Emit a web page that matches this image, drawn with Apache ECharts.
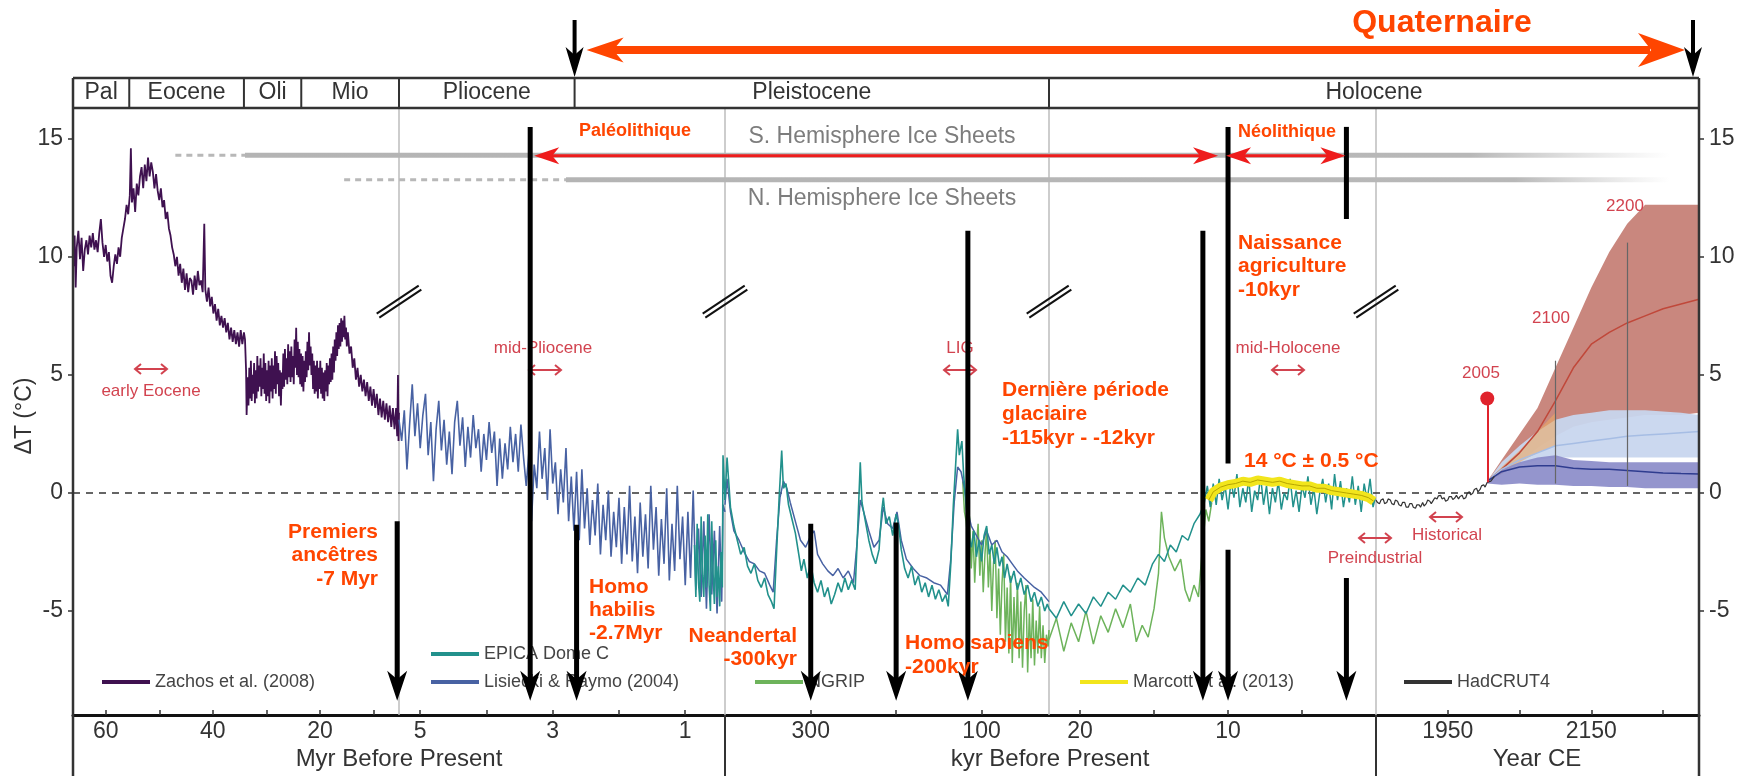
<!DOCTYPE html>
<html><head><meta charset="utf-8">
<script src="https://cdn.jsdelivr.net/npm/echarts@6/dist/echarts.min.js"></script>
<style>html,body{margin:0;padding:0;background:#fff}#c{width:1746px;height:776px}</style>
</head><body><div id="c"></div>
<script>
// ---------------- DATA ----------------
// Zachos et al. (2008): [Myr before present, ΔT]
const zachos = [[66.0,9.6],[65.8,10.9],[65.6,8.7],[65.4,10.4],[65.1,11.1],[64.8,9.9],[64.5,10.8],[64.2,9.4],[63.9,10.3],[63.6,10.7],[63.3,10.1],[63.0,10.9],[62.7,10.4],[62.4,11.0],[62.1,10.3],[61.8,10.7],[61.5,10.2],[61.2,11.0],[60.9,11.6],[60.6,10.6],[60.3,10.0],[60.0,10.5],[59.7,9.8],[59.4,10.2],[59.1,9.2],[58.8,8.9],[58.5,9.6],[58.2,10.1],[57.9,9.7],[57.6,10.4],[57.3,10.0],[57.0,10.8],[56.7,11.2],[56.4,11.6],[56.1,12.2],[55.8,11.8],[55.5,12.6],[55.3,14.6],[55.1,12.3],[54.8,12.9],[54.5,11.9],[54.2,13.1],[53.9,12.6],[53.6,13.4],[53.3,13.8],[53.0,12.9],[52.7,13.9],[52.4,13.2],[52.1,14.2],[51.8,13.4],[51.5,14.0],[51.2,13.6],[50.9,12.9],[50.6,13.5],[50.3,12.8],[50.0,12.4],[49.7,12.9],[49.4,12.1],[49.1,12.4],[48.8,11.6],[48.5,11.9],[48.2,11.2],[47.9,10.9],[47.6,10.4],[47.3,10.1],[47.0,9.6],[46.7,10.0],[46.4,9.2],[46.1,9.7],[45.8,8.9],[45.5,9.5],[45.2,8.6],[44.9,9.3],[44.6,8.5],[44.3,9.1],[44.0,9.0],[43.7,8.4],[43.4,9.2],[43.1,8.6],[42.8,9.4],[42.5,8.8],[42.2,9.0],[41.9,8.5],[41.6,11.4],[41.4,8.6],[41.1,8.1],[40.8,8.7],[40.5,7.9],[40.2,8.3],[39.9,7.6],[39.6,8.0],[39.3,7.3],[39.0,7.8],[38.7,7.1],[38.4,7.5],[38.1,7.0],[37.8,7.4],[37.5,6.8],[37.2,7.2],[36.9,6.5],[36.6,7.0],[36.3,6.4],[36.0,6.9],[35.7,6.3],[35.4,6.8],[35.1,6.2],[34.8,6.9],[34.5,6.3],[34.2,6.8],[34.0,6.5],[33.8,5.2],[33.7,3.3],[33.5,4.9],[33.35,3.7],[33.2,5.3],[33.05,4.0],[32.9,5.6],[32.75,3.9],[32.6,5.0],[32.45,4.2],[32.3,5.5],[32.15,3.8],[32.0,5.2],[31.85,4.0],[31.7,5.8],[31.55,4.3],[31.4,5.4],[31.25,4.5],[31.1,5.7],[30.95,4.1],[30.8,5.3],[30.65,4.4],[30.5,5.9],[30.35,4.2],[30.2,5.5],[30.05,3.9],[29.9,5.2],[29.75,4.1],[29.6,5.6],[29.45,3.8],[29.3,5.4],[29.15,4.3],[29.0,5.7],[28.85,4.0],[28.7,5.4],[28.55,4.4],[28.4,6.0],[28.25,4.2],[28.1,5.8],[27.95,4.6],[27.8,5.5],[27.65,4.1],[27.5,5.2],[27.3,3.7],[27.15,5.1],[27.0,4.4],[26.85,5.9],[26.7,4.5],[26.55,6.1],[26.4,4.8],[26.25,5.7],[26.1,4.6],[25.95,6.3],[25.8,4.9],[25.65,6.0],[25.5,4.7],[25.35,6.2],[25.2,4.9],[25.05,5.8],[24.9,4.6],[24.75,6.5],[24.6,5.3],[24.45,7.0],[24.3,5.0],[24.15,6.4],[24.0,4.9],[23.85,6.1],[23.7,4.6],[23.55,5.9],[23.4,4.5],[23.25,5.8],[23.1,4.3],[22.95,5.6],[22.8,4.7],[22.65,6.0],[22.5,4.9],[22.35,6.4],[22.2,5.2],[22.05,6.8],[21.9,5.4],[21.75,6.2],[21.6,5.0],[21.45,5.9],[21.3,4.4],[21.15,5.6],[21.0,4.2],[20.85,5.4],[20.7,4.3],[20.55,5.6],[20.4,4.0],[20.25,5.3],[20.1,4.4],[19.95,5.6],[19.8,4.2],[19.65,5.3],[19.5,4.0],[19.35,5.1],[19.2,3.9],[19.05,5.2],[18.9,4.3],[18.75,5.5],[18.6,4.1],[18.45,5.4],[18.3,4.6],[18.15,5.7],[18.0,4.7],[17.85,5.9],[17.7,4.8],[17.55,6.2],[17.4,5.1],[17.25,6.5],[17.1,5.6],[16.95,6.8],[16.8,5.8],[16.65,7.1],[16.5,6.1],[16.35,7.2],[16.2,6.2],[16.05,7.4],[15.9,6.4],[15.75,7.3],[15.6,6.6],[15.45,7.5],[15.3,6.5],[15.15,7.0],[15.0,6.2],[14.8,6.8],[14.5,5.9],[14.2,6.2],[13.9,5.3],[13.6,5.7],[13.3,4.8],[13.0,5.3],[12.7,4.5],[12.4,5.0],[12.1,4.3],[11.8,4.8],[11.5,4.1],[11.2,4.7],[10.9,3.9],[10.6,4.5],[10.3,3.7],[10.0,4.4],[9.7,3.6],[9.4,4.2],[9.1,3.3],[8.8,4.0],[8.5,3.2],[8.2,3.9],[7.9,3.1],[7.6,3.8],[7.3,3.0],[7.0,3.7],[6.7,2.8],[6.4,3.6],[6.1,2.7],[5.8,3.6],[5.6,2.4],[5.45,5.0],[5.35,2.2],[5.26,3.4]];

// Lisiecki & Raymo (2004), Myr part: [Myr BP, ΔT]
const lr04Myr = [[5.32,3.1],[5.28,2.2],[5.24,3.5],[5.2,1.0],[5.16,2.9],[5.12,4.6],[5.08,2.4],[5.04,3.8],[5.0,1.9],[4.96,3.3],[4.92,4.2],[4.88,1.6],[4.84,3.0],[4.8,0.5],[4.76,2.7],[4.72,3.9],[4.68,1.8],[4.64,3.1],[4.6,1.2],[4.56,2.6],[4.52,0.8],[4.48,3.0],[4.44,3.9],[4.4,2.0],[4.36,3.2],[4.32,1.1],[4.28,2.8],[4.24,1.5],[4.2,3.3],[4.16,1.9],[4.12,2.7],[4.08,0.9],[4.04,2.5],[4.0,1.4],[3.96,3.0],[3.92,1.7],[3.88,2.6],[3.84,0.3],[3.8,2.3],[3.76,0.6],[3.72,2.1],[3.68,1.0],[3.64,2.8],[3.6,1.3],[3.56,2.5],[3.52,0.9],[3.48,2.9],[3.44,1.5],[3.4,0.3],[3.36,1.7],[3.32,-1.2],[3.28,1.2],[3.24,0.2],[3.2,2.6],[3.16,0.6],[3.12,1.9],[3.08,-0.3],[3.04,2.7],[3.0,0.4],[2.96,1.3],[2.92,-0.9],[2.88,1.0],[2.84,-0.4],[2.8,1.9],[2.76,-1.2],[2.72,0.7],[2.68,-1.6],[2.64,0.9],[2.6,-2.0],[2.56,1.0],[2.52,-1.5],[2.48,0.2],[2.44,-2.2],[2.4,-0.3],[2.36,-1.8],[2.32,0.4],[2.28,-2.6],[2.24,-0.5],[2.2,-2.0],[2.16,0.1],[2.12,-2.7],[2.08,-0.8],[2.04,-2.3],[2.0,-0.2],[1.96,-3.0],[1.92,-0.6],[1.88,-2.6],[1.84,0.3],[1.8,-2.9],[1.76,-1.0],[1.72,-3.4],[1.68,-0.4],[1.64,-2.7],[1.6,-0.9],[1.56,-3.2],[1.52,0.3],[1.48,-2.4],[1.44,-0.6],[1.4,-3.5],[1.36,-1.1],[1.32,-3.0],[1.28,0.2],[1.24,-3.7],[1.2,-1.3],[1.16,-3.3],[1.12,0.3],[1.08,-2.8],[1.04,-1.0],[1.0,-3.9],[0.96,-0.8],[0.92,-3.6],[0.88,0.1],[0.84,-4.1],[0.8,-1.5],[0.76,-4.4],[0.72,-1.2],[0.68,-4.9],[0.64,-0.9],[0.6,-4.3],[0.56,-1.6],[0.52,-5.1],[0.48,-1.4],[0.45,-4.6],[0.43,-0.5],[0.4,-0.8]];
// EPICA Dome C, Myr part
const epicaMyr = [[0.86,-2.2],[0.84,-4.4],[0.82,-1.3],[0.8,-3.8],[0.78,-4.6],[0.76,-1.0],[0.74,-3.5],[0.72,-4.4],[0.7,-1.8],[0.68,-4.0],[0.66,-0.9],[0.64,-3.9],[0.62,-5.0],[0.6,-1.2],[0.58,-3.4],[0.56,-4.7],[0.54,-2.0],[0.52,-4.4],[0.5,-3.1],[0.48,-4.8],[0.46,-2.5],[0.44,-4.0],[0.43,1.6],[0.4,-0.3]];
// kyr part (400 -> 21 kyr BP)
const epicaKyr = [[400.4,-0.3],[398,1.5],[394,-0.6],[390,-1.4],[386,-2.0],[382,-2.6],[378,-2.3],[374,-3.1],[370,-3.4],[366,-3.0],[362,-3.7],[358,-4.0],[354,-3.6],[350,-4.3],[346,-4.6],[343,-4.9],[340,-2.5],[337,-0.2],[334,1.8],[332,0.2],[329,0.4],[326,-0.5],[322,-1.1],[318,-1.7],[314,-2.6],[311,-3.3],[308,-2.8],[304,-3.6],[300,-3.0],[296,-3.8],[292,-4.2],[288,-3.7],[284,-4.4],[280,-4.0],[276,-4.7],[272,-4.3],[268,-3.8],[264,-4.2],[260,-3.6],[256,-4.1],[252,-3.7],[248,-4.1],[245,-1.5],[242,1.3],[240,-0.4],[236,-1.2],[232,-2.0],[228,-2.6],[224,-3.0],[220,-2.4],[217,-0.8],[215,-0.2],[212,-1.3],[208,-1.0],[204,-1.8],[200,-0.9],[197,-1.4],[194,-2.4],[190,-3.2],[186,-3.6],[182,-3.1],[178,-3.9],[174,-3.5],[170,-4.2],[166,-3.8],[162,-4.4],[158,-3.9],[154,-4.5],[150,-4.1],[146,-4.6],[142,-4.3],[139,-4.8],[136,-3.0],[133,-0.5],[130,1.4],[128,2.7],[126,1.6],[123,2.2],[121,0.8],[118,-0.6],[115,-1.8],[112,-2.3],[109,-1.6],[106,-2.7],[103,-2.0],[100,-2.9],[97,-1.8],[94,-1.4],[91,-2.6],[88,-2.2],[85,-3.0],[82,-2.3],[79,-3.1],[76,-2.7],[73,-3.6],[70,-3.0],[66,-3.8],[62,-3.3],[58,-4.1],[54,-3.6],[50,-4.3],[46,-3.9],[42,-4.6],[38,-4.2],[34,-4.8],[30,-4.4],[26,-5.0],[23,-4.7],[21,-4.9]];
const lr04Kyr = [[400.4,-0.5],[398,0.6],[394,-0.8],[390,-1.6],[384,-2.0],[378,-2.5],[372,-2.9],[366,-3.0],[360,-3.3],[354,-3.4],[348,-3.9],[344,-4.2],[340,-2.0],[336,-0.2],[332,0.5],[328,0.2],[324,-0.4],[318,-1.2],[312,-2.0],[306,-2.3],[300,-1.8],[296,-1.6],[292,-2.6],[286,-3.0],[280,-3.3],[274,-3.5],[268,-3.2],[262,-3.6],[256,-3.3],[250,-3.8],[246,-2.2],[242,-0.3],[238,-0.8],[232,-1.6],[226,-2.3],[220,-2.0],[215,-0.6],[210,-1.3],[204,-1.5],[199,-0.8],[194,-2.0],[188,-2.8],[180,-3.2],[172,-3.5],[164,-3.6],[156,-3.8],[148,-3.9],[140,-4.3],[136,-2.8],[132,-0.4],[128,1.1],[124,0.9],[120,0.2],[116,-0.8],[112,-1.4],[106,-1.8],[100,-2.2],[94,-1.6],[88,-2.2],[82,-2.0],[76,-2.5],[70,-2.7],[64,-3.0],[58,-3.3],[50,-3.6],[44,-3.8],[38,-4.0],[30,-4.2],[21,-4.6]];
const ngripKyr = [[122,0.5],[120,-0.8],[118,-1.2],[116,-2.0],[114,-1.0],[112,-3.2],[110,-1.6],[108,-3.8],[106,-2.2],[104,-1.3],[102,-3.5],[100,-2.0],[98,-4.2],[96,-2.6],[94,-1.5],[92,-4.0],[90,-2.4],[88,-5.0],[86,-3.0],[84,-2.0],[82,-5.3],[80,-3.2],[78,-6.0],[76,-3.8],[74,-2.6],[72,-6.3],[70,-4.0],[68,-6.8],[66,-3.5],[64,-7.2],[62,-4.4],[60,-6.5],[58,-3.8],[56,-7.0],[54,-4.6],[52,-7.4],[50,-5.0],[48,-3.9],[46,-7.6],[44,-5.1],[42,-7.0],[40,-4.5],[38,-7.3],[36,-5.4],[34,-6.8],[32,-4.8],[30,-7.0],[28,-5.6],[26,-7.2],[24,-6.0],[22,-6.5],[21,-5.8]];
// Holocene part (22 -> 0 kyr BP)
const epicaHolo = [[22.1,-4.9],[21.6,-5.3],[21.1,-4.6],[20.6,-5.2],[20.1,-4.7],[19.6,-5.1],[19.1,-4.4],[18.6,-4.8],[18.1,-4.2],[17.6,-4.5],[17.1,-3.9],[16.6,-4.2],[16.1,-3.6],[15.6,-3.9],[15.1,-3.0],[14.7,-2.6],[14.3,-2.9],[13.9,-2.2],[13.5,-2.5],[13.1,-1.8],[12.7,-2.0],[12.3,-1.3],[11.9,-0.9],[11.6,-0.4],[11.4,0.3],[11.2,-0.6],[11.0,0.4],[10.8,-0.5],[10.6,0.6],[10.4,-0.3],[10.2,0.3],[10.0,-0.7],[9.8,0.5],[9.6,-0.2],[9.4,0.8],[9.2,-0.6],[9.0,0.2],[8.8,-0.4],[8.6,0.6],[8.4,-0.8],[8.2,0.1],[8.0,-0.3],[7.8,0.7],[7.6,-0.5],[7.4,0.3],[7.2,-0.9],[7.0,0.2],[6.8,-0.4],[6.6,0.5],[6.4,-0.7],[6.2,0.0],[6.0,-0.3],[5.8,0.6],[5.6,-0.6],[5.4,0.1],[5.2,-0.8],[5.0,0.3],[4.8,-0.2],[4.6,0.7],[4.4,-0.5],[4.2,0.2],[4.0,-0.9],[3.8,0.0],[3.6,0.6],[3.4,-0.4],[3.2,0.4],[3.0,-0.7],[2.8,0.8],[2.6,-0.3],[2.4,0.5],[2.2,-0.6],[2.0,0.2],[1.8,-0.4],[1.6,0.7],[1.4,-0.5],[1.2,0.3],[1.0,-0.8],[0.8,0.4],[0.6,-0.3],[0.4,0.6],[0.2,-0.6],[0.05,-0.2]];
const ngripHolo = [[22.1,-6.2],[21.6,-5.3],[21.1,-6.7],[20.6,-5.5],[20.1,-6.3],[19.6,-5.0],[19.1,-6.4],[18.6,-5.2],[18.1,-5.9],[17.6,-4.9],[17.1,-5.7],[16.6,-4.7],[16.2,-6.3],[15.8,-5.6],[15.4,-6.1],[15.0,-4.9],[14.7,-3.4],[14.5,-0.8],[14.3,-1.9],[14.0,-2.7],[13.6,-3.3],[13.2,-2.8],[12.9,-4.1],[12.6,-4.6],[12.3,-3.9],[12.0,-4.4],[11.7,-2.1],[11.5,-0.7],[11.3,-1.2],[11.1,-0.4]];
const marcott = [[11.3,-0.3],[11.0,0.05],[10.5,0.25],[10.0,0.35],[9.5,0.4],[9.0,0.5],[8.5,0.45],[8.0,0.55],[7.5,0.5],[7.0,0.45],[6.5,0.5],[6.0,0.4],[5.5,0.35],[5.0,0.3],[4.5,0.3],[4.0,0.2],[3.5,0.2],[3.0,0.1],[2.5,0.05],[2.0,0.0],[1.5,-0.05],[1.0,-0.1],[0.5,-0.2],[0.15,-0.35]];
// HadCRUT4: [year CE, ΔT]
const hadcrut4 = [[1850,-0.3],[1852,-0.4],[1855,-0.45],[1857,-0.3],[1860,-0.25],[1862,-0.45],[1865,-0.4],[1867,-0.25],[1870,-0.3],[1872,-0.45],[1875,-0.5],[1877,-0.3],[1880,-0.35],[1882,-0.5],[1885,-0.55],[1887,-0.4],[1890,-0.4],[1892,-0.6],[1895,-0.6],[1897,-0.45],[1900,-0.45],[1902,-0.6],[1905,-0.65],[1907,-0.5],[1910,-0.5],[1912,-0.6],[1915,-0.4],[1917,-0.55],[1920,-0.45],[1922,-0.3],[1925,-0.35],[1927,-0.45],[1930,-0.3],[1932,-0.2],[1935,-0.25],[1937,-0.12],[1940,-0.1],[1942,-0.25],[1945,-0.2],[1947,-0.35],[1950,-0.3],[1952,-0.15],[1955,-0.15],[1957,-0.28],[1960,-0.2],[1962,-0.1],[1965,-0.25],[1967,-0.15],[1970,-0.1],[1972,-0.25],[1975,-0.2],[1977,-0.02],[1980,0.05],[1982,-0.08],[1985,0.0],[1987,0.15],[1990,0.2],[1992,0.05],[1995,0.15],[1997,0.3],[2000,0.35],[2002,0.25],[2005,0.45],[2007,0.38],[2010,0.5],[2012,0.42],[2015,0.7]];
// Projections
const projYears = [2005,2025,2050,2075,2100,2125,2150,2175,2200,2225,2250,2275,2300];
const rcp85Hi  = [0.5,1.4,2.5,3.6,5.3,7.0,8.7,10.2,11.4,12.2,12.2,12.2,12.2];
const rcp85Lo  = [0.5,0.8,1.3,1.9,2.4,2.8,3.0,3.1,3.2,3.3,3.3,3.3,3.4];
const rcp85Mid = [0.5,1.0,1.7,2.6,3.9,5.3,6.3,6.8,7.2,7.5,7.8,8.0,8.2];
const rcp45Hi  = [0.5,1.3,2.0,2.6,3.1,3.3,3.4,3.5,3.5,3.5,3.45,3.4,3.3];
const rcp45Lo  = [0.5,0.9,1.2,1.4,1.5,1.5,1.5,1.5,1.5,1.5,1.5,1.5,1.5];
const rcp45Mid = [0.5,1.0,1.4,1.7,2.0,2.1,2.2,2.3,2.4,2.45,2.5,2.55,2.6];
const rcp26Hi  = [0.5,1.0,1.3,1.5,1.6,1.4,1.35,1.3,1.3,1.3,1.3,1.3,1.3];
const rcp26Lo  = [0.4,0.35,0.4,0.35,0.35,0.3,0.3,0.25,0.25,0.2,0.2,0.2,0.2];
const rcp26Mid = [0.5,0.9,1.1,1.15,1.15,1.05,1.0,1.0,0.95,0.9,0.85,0.82,0.8];
const rcp60Years = [2005,2025,2050,2075,2100];
const rcp60Hi = [0.5,1.1,1.8,2.6,3.4];
const rcp60Lo = [0.5,0.8,1.3,1.7,2.0];
// Axes ticks / labels
const xTicks  = [[60,50,40,30,20,10],[5,4,3,2,1],[300,200,100],[20,15,10,5],[1950,2050,2150,2250]];
const xLabels = [[60,40,20],[5,3,1],[300,100],[20,10],[1950,2150]];
const xRanges = [[5.26,66.1],[0.40,5.32],[21,400.4],[0,22.1],[1850,2300]];
const yTicks = [-5,0,5,10,15];
const epochNames = ['Pal','Eocene','Oli','Mio','Pliocene','Pleistocene','Holocene'];
const epochBounds = [[0,66.1],[0,55.6],[0,34.2],[0,23.5],[1,5.32],[1,2.67],[3,22.1],[4,2300]];
// events: [segment, time, top ΔT, arrow tip ΔT]
const events = [[0,5.6,-1.2,-8.8],[1,3.34,15.5,-8.8],[1,2.64,-1.35,-8.8],[2,300,-1.3,-8.8],[2,200,-1.25,-8.8],[2,116,11.1,-8.8],[3,11.7,11.1,-8.8],[3,10,-2.4,-8.8],[3,2.0,-3.6,-8.8]];
const eventBars = [[3,10,15.5,1.25],[3,2.0,15.5,11.6]];

// ---------------- CHART ----------------
const FONT = '"Liberation Sans", Arial, Helvetica, sans-serif';
const segLeft = [73,399,725,1049,1376], segWidth = [326,326,324,327,323];
const chart = echarts.init(document.getElementById('c'), null, {renderer:'canvas', width:1746, height:776});

const grids = segLeft.map((l,i)=>({left:l, width:segWidth[i], top:108, height:607, containLabel:false, outerBoundsMode:'none'}));
const xAxes = xRanges.map((r,i)=>({type:'value', gridIndex:i, min:r[0], max:r[1], inverse: i!==4,
  axisLine:{show:true, onZero:false, lineStyle:{color:'#111', width:3}},
  axisTick:{show:true, inside:true, length:5, customValues:xTicks[i], lineStyle:{color:'#333', width:1.5}},
  axisLabel:{show:true, customValues:xLabels[i], margin:5, fontSize:23, color:'#333', fontFamily:FONT, formatter:v=>String(v)},
  splitLine:{show:false}}));
const yAxes = [0,1,2,3,4].map(i=>({type:'value', gridIndex:i, min:-9.4, max:16.3, position: i===4?'right':'left', show: i===0||i===4,
  axisLine:{show:false}, axisTick:{show:true, length:5, customValues:yTicks, lineStyle:{color:'#333', width:1.5}},
  axisLabel:{show:true, customValues:yTicks, margin:10, fontSize:23, color:'#333', fontFamily:FONT, formatter:v=>String(v)},
  splitLine:{show:false}}));

function lineS(name, data, g, color, w, z){
  return {type:'line', name:name, data:data, xAxisIndex:g, yAxisIndex:g, showSymbol:false, symbol:'none', color:color,
    lineStyle:{color:color, width:w||1.3}, z:z||2, silent:true, animation:false};
}
function band(years, lo, hi, fill, z){
  return {type:'custom', xAxisIndex:4, yAxisIndex:4, silent:true, z:z, data:[[years[0], lo[0]]], encode:{x:0,y:1},
    renderItem:function(params, api){
      const pts=[];
      for(let i=0;i<years.length;i++) pts.push(api.coord([years[i],hi[i]]));
      for(let i=years.length-1;i>=0;i--) pts.push(api.coord([years[i],lo[i]]));
      return {type:'polygon', shape:{points:pts}, style:{fill:fill}};
    }};
}
const zip = (xs, ys)=>xs.map((x,i)=>[x,ys[i]]);

const series = [
  lineS('Zachos et al. (2008)', zachos, 0, '#3f1150', 1.8),
  lineS('Lisiecki & Raymo (2004)', lr04Myr, 1, '#4862a3', 1.6),
  lineS('EPICA Dome C', epicaMyr, 1, '#22918c', 1.6, 3),
  lineS('NGRIP', ngripKyr, 2, '#6db35b', 1.5),
  lineS('Lisiecki & Raymo (2004)', lr04Kyr, 2, '#4862a3', 1.5, 3),
  lineS('EPICA Dome C', epicaKyr, 2, '#22918c', 1.6, 4),
  lineS('NGRIP', ngripHolo, 3, '#6db35b', 1.5),
  lineS('EPICA Dome C', epicaHolo, 3, '#22918c', 1.5, 3),
  lineS('Marcott et al. (2013)', marcott, 3, '#f2e51c', 9, 4),
  lineS('', marcott, 3, '#b6a500', 1, 5),
  band(projYears, rcp85Lo, rcp85Hi, 'rgba(193,118,108,0.88)', 1),
  band(projYears, rcp45Lo, rcp45Hi, 'rgba(200,214,238,0.95)', 1),
  band(rcp60Years, rcp60Lo, rcp60Hi, 'rgba(236,170,100,0.6)', 1),
  band(projYears, rcp26Lo, rcp26Hi, 'rgba(136,138,200,0.9)', 1),
  Object.assign(lineS('', zip(projYears, rcp85Mid), 4, '#c0483a', 1.5, 3), {markLine:{silent:true, symbol:['none','none'], animation:false, label:{show:false},
     lineStyle:{color:'#666', width:1.2, type:'solid'},
     data:[[{coord:[2100,0.4]},{coord:[2100,5.6]}],[{coord:[2200,0.3]},{coord:[2200,10.6]}]]}}),
  lineS('', zip(projYears, rcp45Mid), 4, '#a6bde4', 1.5, 3),
  lineS('', zip(projYears, rcp26Mid), 4, '#2f3c8f', 1.5, 3),
  Object.assign(lineS('HadCRUT4', hadcrut4, 4, '#333333', 1.2, 4), {markLine:{silent:true, symbol:['none','circle'], symbolSize:[14,14], animation:false, label:{show:false},
     lineStyle:{color:'#e0232c', width:2, type:'solid'}, itemStyle:{color:'#e0232c'},
     data:[[{coord:[2005,0.45]},{coord:[2005,4.0]}]]}})
];

const legendItems = [['Zachos et al. (2008)',102,672],['EPICA Dome C',431,644],['Lisiecki & Raymo (2004)',431,672],['NGRIP',755,672],['Marcott et al. (2013)',1080,672],['HadCRUT4',1404,672]];
const legends = legendItems.map(it=>({data:[it[0]], left:it[1], top:it[2], itemWidth:48, itemHeight:4, icon:'rect', selectedMode:false, padding:0,
  textStyle:{fontSize:18, color:'#444', fontFamily:FONT, lineHeight:20}}));

chart.setOption({animation:false, backgroundColor:'#fff', grid:grids, xAxis:xAxes, yAxis:yAxes, series:series, legend:legends});

// ---------------- ANNOTATIONS ----------------
const px = (g,x,y)=>chart.convertToPixel({gridIndex:g},[x,y]);
const G = [];
function L(x1,y1,x2,y2,stroke,w,z,dash){G.push({type:'line', silent:true, z:z||50, shape:{x1:x1,y1:y1,x2:x2,y2:y2}, style:{stroke:stroke, lineWidth:w, lineDash:dash||null}});}
function Poly(pts,fill,z){G.push({type:'polygon', silent:true, z:z||100, shape:{points:pts}, style:{fill:fill}});}
function PL(pts,stroke,w,z){G.push({type:'polyline', silent:true, z:z||20, shape:{points:pts}, style:{stroke:stroke, lineWidth:w, fill:null}});}
function T(x,y,text,o){o=o||{}; G.push({type:'text', silent:true, z:o.z||100, x:x, y:y, rotation:o.rot||0,
  style:{text:text, fill:o.color||'#333', fontSize:o.size||22, fontWeight:o.weight||'normal', fontFamily:FONT, textAlign:o.align||'center', textVerticalAlign:'middle'}});}
function DA(cx,cy,c){const h=16,a=6; L(cx-h,cy,cx+h,cy,c,2,20); PL([[cx-h+a,cy-5],[cx-h,cy],[cx-h+a,cy+5]],c,2); PL([[cx+h-a,cy-5],[cx+h,cy],[cx+h-a,cy+5]],c,2);}
function downArrow(x,yTop,yTip,w,h){w=w||20;h=h||30; L(x,yTop,x,yTip-h*0.6,'#000',5,100); Poly([[x,yTip],[x-w/2,yTip-h],[x,yTip-h*0.72],[x+w/2,yTip-h]],'#000',101);}
function hHead(xt,y,dir,len,ht,c){Poly([[xt,y],[xt-dir*len,y-ht/2],[xt-dir*len*0.72,y],[xt-dir*len,y+ht/2]],c,101);}

const yPx = v=>px(0,10,v)[1];
const ex = epochBounds.map(b=>px(b[0],b[1],0)[0]);
const FL = ex[0], FR = ex[ex.length-1], FT = 78, FH = 108, FA = 715, FB = 776;

// frame and header
L(FL,FT,FR,FT,'#333',2.5,30); L(FL,FH,FR,FH,'#333',2.5,30);
L(FL,FT,FL,FB,'#333',2.5,30); L(FR,FT,FR,FB,'#333',2.5,30);
for(let i=1;i<ex.length-1;i++) L(ex[i],FT,ex[i],FH,'#333',2,30);
epochNames.forEach((n,i)=>T((ex[i]+ex[i+1])/2, 93, n, {size:23, color:'#333', z:30}));
// segment separators
const sepX = segLeft.slice(1);
sepX.forEach(x=>L(x,FH,x,FA,'#bdbdbd',1.5,1));
[segLeft[2], segLeft[4]].forEach(x=>L(x,FA,x,FB,'#333',2,30));
// zero line
L(FL,yPx(0),FR,yPx(0),'#333',1.5,1,[7,6]);
// break marks
sepX.forEach(x=>{const y=yPx(8.1); [-2.4,2.4].forEach(o=>L(x-21+o*0.55,y+14+o*0.83,x+21+o*0.55,y-14+o*0.83,'#111',2,25));});

// ice sheets
const ice = [['S. Hemisphere Ice Sheets',14.3,[0,47.0],[0,34.0],[4,2259],137],['N. Hemisphere Ice Sheets',13.26,[0,15.5],[1,2.8],[4,2259],199]];
ice.forEach(s=>{
  const y = yPx(s[1]);
  const xd = px(s[2][0],s[2][1],0)[0], xs = px(s[3][0],s[3][1],0)[0], xe = px(s[4][0],s[4][1],0)[0];
  L(xd,y,xs,y,'#b8b8b8',3,5,[6,5]);
  G.push({type:'rect', silent:true, z:5, shape:{x:xs,y:y-2.5,width:xe-xs,height:5},
    style:{fill:new echarts.graphic.LinearGradient(0,0,1,0,[{offset:0,color:'#b4b4b4'},{offset:0.86,color:'#b8b8b8'},{offset:1,color:'rgba(200,200,200,0)'}])}});
  T(882, s[5], s[0], {size:23, color:'#7d7d7d', z:6});
});

// original figure annotations (red)
const RC = '#d2434f';
T(151,391,'early Eocene',{size:17,color:RC,z:20}); DA(151,369,RC);
T(543,348,'mid-Pliocene',{size:17,color:RC,z:20}); DA(545,370,RC);
T(960,348,'LIG',{size:17,color:RC,z:20}); DA(960,370,RC);
T(1288,348,'mid-Holocene',{size:17,color:RC,z:20}); DA(1288,370,RC);
T(1375,558,'Preindustrial',{size:17,color:RC,z:20}); DA(1375,538,RC);
T(1447,535,'Historical',{size:17,color:RC,z:20}); DA(1446,517,RC);
T(1481,373,'2005',{size:17,color:RC,z:20});
T(1551,318,'2100',{size:17,color:RC,z:20});
T(1625,206,'2200',{size:17,color:RC,z:20});

// axis names
T(399,759,'Myr Before Present',{size:24,z:30});
T(1050,759,'kyr Before Present',{size:24,z:30});
T(1537,759,'Year CE',{size:24,z:30});
T(25,416,'ΔT (°C)',{size:23,rot:Math.PI/2,z:30});

// black event arrows
const evX = events.map(e=>px(e[0],e[1],0)[0]);
events.forEach((e,i)=>downArrow(evX[i], yPx(e[2]), yPx(e[3])));
eventBars.forEach(b=>{const x=px(b[0],b[1],0)[0]; L(x,yPx(b[2]),x,yPx(b[3]),'#000',5,100);});

// Paléolithique / Néolithique red arrows
const RR = '#ee1c1c', yP = yPx(14.28);
const xPa = evX[1]+4, xPb = px(3,10,0)[0]-10, xNa = px(3,10,0)[0]-2, xNb = evX[8]-1;
L(xPa+15,yP,xPb-15,yP,RR,3,100); hHead(xPa,yP,-1,25,17,RR); hHead(xPb,yP,1,25,17,RR);
L(xNa+15,yP,xNb-15,yP,RR,3,100); hHead(xNa,yP,-1,25,17,RR); hHead(xNb,yP,1,25,17,RR);

// Quaternaire arrow on top
const OR = '#ff4500';
const xQa = ex[5]+12, xQb = FR-14;
L(xQa+25,50,xQb-35,50,OR,8,100); hHead(xQa,50,-1,37,25,OR); hHead(xQb,50,1,47,34,OR);
T(1442,23,'Quaternaire',{size:32,weight:'bold',color:OR});
// black boundary arrows at top
[ex[5], FR-6].forEach(x=>{L(x,20,x,58,'#000',4,100); Poly([[x,77],[x-9,47],[x,55],[x+9,47]],'#000',101);});

// bold orange-red labels
const B = {size:21, weight:'bold', color:OR};
T(635,131,'Paléolithique',{size:18,weight:'bold',color:OR});
T(1287,132,'Néolithique',{size:18,weight:'bold',color:OR});
['Premiers','ancêtres','-7 Myr'].forEach((s,i)=>T(378,532+i*23.5,s,Object.assign({align:'right'},B)));
['Homo','habilis','-2.7Myr'].forEach((s,i)=>T(589,587+i*23,s,Object.assign({align:'left'},B)));
['Neandertal','-300kyr'].forEach((s,i)=>T(797,636+i*23,s,Object.assign({align:'right'},B)));
['Homo sapiens','-200kyr'].forEach((s,i)=>T(905,643+i*24,s,Object.assign({align:'left'},B)));
['Dernière période','glaciaire','-115kyr - -12kyr'].forEach((s,i)=>T(1002,390+i*24,s,Object.assign({align:'left'},B)));
['Naissance','agriculture','-10kyr'].forEach((s,i)=>T(1238,243+i*23.5,s,Object.assign({align:'left'},B)));
T(1244,461,'14 °C ± 0.5 °C',Object.assign({align:'left'},B));

chart.setOption({graphic:{elements:G}});
</script></body></html>
